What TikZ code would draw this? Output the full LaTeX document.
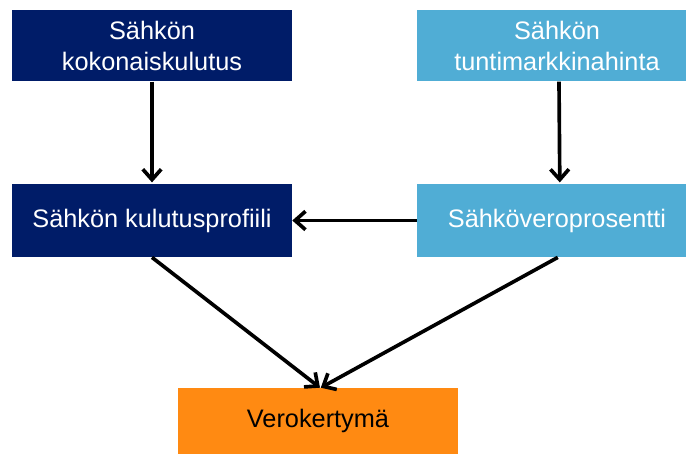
\documentclass[tikz,border=0pt]{standalone}
\usepackage{fontspec}
\setmainfont{Liberation Sans}
\usepackage{tikz}
\usetikzlibrary{arrows.meta}

\definecolor{navy}{HTML}{001C68}
\definecolor{skyblue}{HTML}{50ADD5}
\definecolor{veroorange}{HTML}{FF8A12}

\begin{document}
\begin{tikzpicture}[x=0.025cm,y=-0.025cm,
    box/.style={minimum width=7cm,minimum height=1.79cm,inner sep=0pt,
        align=center,font=\fontsize{18}{22}\selectfont},
    darkbox/.style={box,fill=navy,text=white},
    lightbox/.style={box,fill=skyblue,text=white},
    arr/.style={line width=2.6pt,-{Straight Barb[length=0.26cm,width=0.46cm]}}]

    \useasboundingbox (0,0) rectangle (686,454);

    % Top boxes (the right ones run past the edge)
    \node[darkbox] (kulutus) at (152,45.5) {Sähkön\\kokonaiskulutus};
    \node[lightbox] (hinta) at (557,45.5) {Sähkön\\tuntimarkkinahinta};

    % Middle boxes
    \node[darkbox,minimum height=1.83cm] (profiili) at (152,220.5) {Sähkön kulutusprofiili};
    \node[lightbox,minimum height=1.83cm] (prosentti) at (557,220.5) {Sähköveroprosentti};

    % Result
    \node[box,fill=veroorange,minimum height=1.65cm] (kertyma) at (318,421) {Verokertymä};

    % Arrows
    \draw[arr] (kulutus.south) -- ([yshift=0.03cm]profiili.north);
    \draw[arr] ([xshift=0.05cm]hinta.south) -- ([xshift=0.07cm,yshift=0.03cm]prosentti.north);
    \draw[arr] (prosentti.west) -- (profiili.east);
    \draw[arr] (profiili.south) -- ([xshift=0.05cm]kertyma.north);
    \draw[arr] ([xshift=0.02cm]prosentti.south) -- ([xshift=0.07cm]kertyma.north);

\end{tikzpicture}
\end{document}
